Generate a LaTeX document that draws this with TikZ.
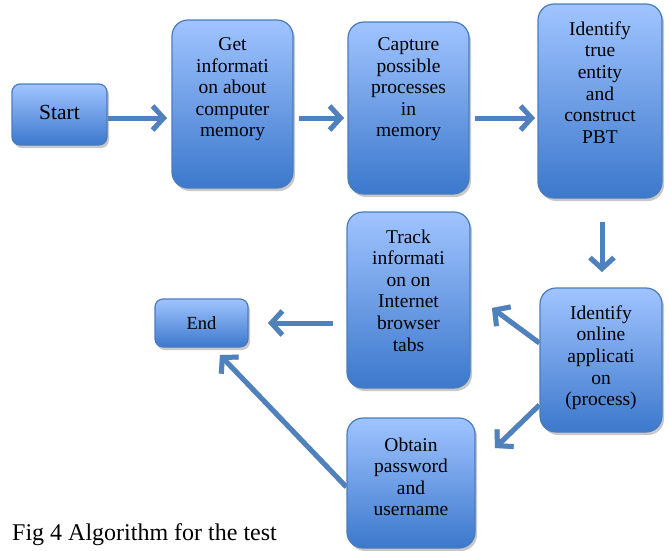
\documentclass[tikz,border=0pt]{standalone}
\usepackage{fontspec}
\setmainfont{Liberation Serif}
\usetikzlibrary{arrows.meta,shadows,calc}

\definecolor{boxtop}{HTML}{A0C4FF}
\definecolor{boxbot}{HTML}{3C78CC}
\definecolor{boxline}{HTML}{4A7CBC}
\definecolor{flowblue}{HTML}{4F81BD}
\definecolor{shade}{HTML}{C8C8C8}

\tikzset{
  blockbase/.style={draw=boxline, line width=1.2pt, top color=boxtop, bottom color=boxbot,
    drop shadow={shadow xshift=2pt, shadow yshift=-3pt, fill=shade, opacity=1}},
  bigbox/.style={blockbase, rounded corners=16pt},
  smallbox/.style={blockbase, rounded corners=8pt},
  boxtext/.style={anchor=north, align=center, inner sep=0pt,
    font=\fontsize{19.5}{21.6}\selectfont},
  flowshadow/.style={draw=shade, line width=5pt, -{Straight Barb[length=11pt,width=24pt]}},
  flow/.style={draw=flowblue, line width=5pt, -{Straight Barb[length=11pt,width=24pt]}},
}

\begin{document}
\begin{tikzpicture}[x=1pt,y=-1pt]
\useasboundingbox (0,0) rectangle (670,550);

% blocks
\node[smallbox, minimum width=95pt, minimum height=61pt] (start) at (59.5,114.5) {};
\node[bigbox, minimum width=121pt, minimum height=168pt] (get) at (232.5,104) {};
\node[bigbox, minimum width=121pt, minimum height=172pt] (capture) at (408.5,108) {};
\node[bigbox, minimum width=124pt, minimum height=194pt] (ident) at (600,101) {};
\node[bigbox, minimum width=122pt, minimum height=144pt] (online) at (601,360) {};
\node[bigbox, minimum width=123pt, minimum height=176pt] (track) at (408.5,300) {};
\node[smallbox, minimum width=93pt, minimum height=48pt] (end) at (201.5,323) {};
\node[bigbox, minimum width=128pt, minimum height=130pt] (obtain) at (411,483) {};

% texts
\node[font=\fontsize{21.5}{24}\selectfont, inner sep=0pt] (startt) at (59.5,112) {Start};
\node[font=\fontsize{18.5}{20}\selectfont, inner sep=0pt] (endt) at (201.5,323) {End};
\node[boxtext] (gett) at ($(get.north)+(0,18)$) {Get\\informati\\on about\\computer\\memory};
\node[boxtext] (capturet) at ($(capture.north)+(0,16)$) {Capture\\possible\\processes\\in\\memory};
\node[boxtext] (identt) at ($(ident.north)+(0,18)$) {Identify\\true\\entity\\and\\construct\\PBT};
\node[boxtext] (trackt) at ($(track.north)+(0,18)$) {Track\\informati\\on on\\Internet\\browser\\tabs};
\node[boxtext] (onlinet) at ($(online.north)+(0,18)$) {Identify\\online\\applicati\\on\\(process)};
\node[boxtext] (obtaint) at ($(obtain.north)+(0,20)$) {Obtain\\password\\and\\username};

% caption
\node[anchor=base west, inner sep=0pt, font=\fontsize{24}{28}\selectfont] (caption) at (12,540) {Fig 4 Algorithm for the test};

% connector end points
\coordinate (r1) at (0,118);
\coordinate (a1e) at (167,118);
\coordinate (a2s) at (299,118);
\coordinate (a2e) at (344,118);
\coordinate (a3s) at (475,118);
\coordinate (a3e) at (535,118);
\coordinate (a4s) at (602,222);
\coordinate (a4e) at (602,272);
\coordinate (a5e) at (492,308);
\coordinate (a6e) at (495,448);
\coordinate (a7s) at (333,323);
\coordinate (a7e) at (268,323);
\coordinate (a8e) at (220,355);

% connectors: grey copies first, then the blue arrows
\begin{scope}[shift={(1.5,2.5)}]
\draw[flowshadow] (start.east |- r1) -- (a1e);
\draw[flowshadow] (a2s) -- (a2e);
\draw[flowshadow] (a3s) -- (a3e);
\draw[flowshadow] (a4s) -- (a4e);
\draw[flowshadow] ([yshift=17pt]online.west) -- (a5e);
\draw[flowshadow] ([yshift=-45pt]online.west) -- (a6e);
\draw[flowshadow] (a7s) -- (a7e);
\draw[flowshadow] ([yshift=-4pt]obtain.west) -- (a8e);
\end{scope}
\draw[flow] (start.east |- r1) -- (a1e);
\draw[flow] (a2s) -- (a2e);
\draw[flow] (a3s) -- (a3e);
\draw[flow] (a4s) -- (a4e);
\draw[flow] ([yshift=17pt]online.west) -- (a5e);
\draw[flow] ([yshift=-45pt]online.west) -- (a6e);
\draw[flow] (a7s) -- (a7e);
\draw[flow] ([yshift=-4pt]obtain.west) -- (a8e);
\end{tikzpicture}
\end{document}
